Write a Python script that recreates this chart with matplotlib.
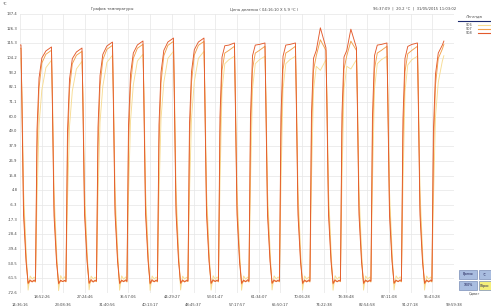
import matplotlib
matplotlib.use("Agg")
import matplotlib.pyplot as plt
from matplotlib.patches import Rectangle
from matplotlib.transforms import blended_transform_factory

# time stamps (hours since start of log) shared by all three sensors
HOURS = [
    14.6,
    14.8, 15.0, 15.3, 15.8, 16.2, 16.6, 17.0, 17.4, 17.65, 17.95, 18.35, 18.9, 19.7,
    20.8, 21.0, 21.3, 21.8, 22.2, 22.6, 23.0, 23.4, 23.65, 23.95, 24.35, 24.9, 25.7,
    26.8, 27.0, 27.3, 27.8, 28.2, 28.6, 29.0, 29.4, 29.65, 29.95, 30.35, 30.9, 31.7,
    32.8, 33.0, 33.3, 33.8, 34.2, 34.6, 35.0, 35.4, 35.65, 35.95, 36.35, 36.9, 37.7,
    38.8, 39.0, 39.3, 39.8, 40.2, 40.6, 41.0, 41.4, 41.65, 41.95, 42.35, 42.9, 43.7,
    44.8, 45.0, 45.3, 45.8, 46.2, 46.6, 47.0, 47.4, 47.65, 47.95, 48.35, 48.9, 49.7,
    50.8, 51.0, 51.3, 51.8, 52.2, 52.6, 53.0, 53.4, 53.65, 53.95, 54.35, 54.9, 55.7,
    56.8, 57.0, 57.3, 57.8, 58.2, 58.6, 59.0, 59.4, 59.65, 59.95, 60.35, 60.9, 61.7,
    62.8, 63.0, 63.3, 63.8, 64.2, 64.6, 65.0, 65.4, 65.65, 65.95, 66.35, 66.9, 67.7,
    68.8, 69.0, 69.3, 69.8, 70.2, 70.6, 71.0, 71.4, 71.65, 71.95, 72.35, 72.9, 73.7,
    74.8, 75.0, 75.3, 75.8, 76.2, 76.6, 77.0, 77.4, 77.65, 77.95, 78.35, 78.9, 79.7,
    80.8, 81.0, 81.3, 81.8, 82.2, 82.6, 83.0, 83.4, 83.65, 83.95, 84.35, 84.9, 85.7,
    86.8, 87.0, 87.3, 87.8, 88.2, 88.6, 89.0, 89.4, 89.65, 89.95, 90.35, 90.9, 91.7,
    92.8, 93.0, 93.3, 93.8, 94.2, 94.6, 95.0, 95.4, 95.65, 95.95, 96.35, 96.9, 97.7,
    98.0,
]

TEMP_S06 = [
    104.0,
    104.0, 76.4, 4.9, -40.2, -70.4, -59.8, -62.1, -60.6, -62.1, -2.6, 53.8, 80.2, 97.0,
    102.6, 75.5, 4.0, -40.8, -70.8, -59.5, -62.3, -60.4, -62.0, -3.5, 53.0, 79.5, 96.0,
    101.8, 76.0, 5.2, -40.0, -70.2, -59.9, -62.0, -60.7, -62.2, -1.0, 56.0, 83.0, 101.0,
    106.3, 77.0, 5.5, -39.8, -70.5, -59.7, -62.2, -60.5, -62.1, 0.0, 57.0, 84.0, 102.0,
    107.1, 77.5, 5.8, -39.5, -70.6, -59.8, -62.1, -60.6, -62.0, 1.0, 58.5, 86.0, 104.0,
    109.3, 78.0, 6.0, -39.9, -70.3, -59.9, -62.0, -60.7, -62.1, 1.5, 59.0, 86.5, 104.0,
    109.3, 77.0, 5.0, -40.1, -70.4, -59.6, -62.2, -60.5, -62.2, 10.0, 80.0, 100.0, 103.0,
    105.6, 76.0, 4.5, -40.3, -70.5, -59.8, -62.1, -60.6, -62.1, 10.0, 81.0, 100.0, 103.0,
    105.6, 76.2, 4.3, -40.0, -70.3, -59.7, -62.0, -60.5, -62.0, 10.0, 80.5, 100.0, 103.0,
    105.6, 76.4, 4.2, -40.2, -70.4, -59.8, -62.1, -60.6, -62.1, 12.0, 80.0, 98.0, 95.0,
    103.0, 76.6, 4.6, -40.0, -70.5, -59.6, -62.2, -60.5, -62.0, 12.0, 81.0, 98.0, 96.0,
    103.0, 76.3, 4.4, -40.2, -70.4, -59.8, -62.1, -60.6, -62.1, 10.0, 81.0, 100.0, 103.0,
    105.6, 76.1, 4.5, -40.1, -70.3, -59.7, -62.0, -60.4, -62.0, 8.0, 79.0, 99.0, 103.0,
    105.6, 76.4, 4.9, -40.2, -70.4, -59.8, -62.1, -60.6, -62.1, -2.6, 60.0, 86.0, 102.0,
    106.0,
]

TEMP_S07 = [
    111.6,
    111.6, 68.9, -6.4, -46.3, -65.8, -63.6, -63.6, -63.6, -64.3, 35.0, 81.7, 100.5, 107.1,
    110.1, 68.0, -7.0, -46.8, -65.9, -63.4, -63.8, -63.5, -64.2, 34.0, 81.0, 100.0, 106.3,
    109.3, 69.0, -6.0, -46.0, -65.7, -63.5, -63.7, -63.6, -64.1, 37.0, 83.0, 103.0, 110.8,
    113.8, 69.5, -5.8, -45.8, -65.8, -63.6, -63.6, -63.4, -64.3, 38.0, 84.0, 104.0, 111.6,
    114.6, 70.0, -5.5, -45.5, -65.9, -63.5, -63.8, -63.5, -64.2, 39.0, 85.5, 106.0, 113.8,
    116.8, 70.5, -5.2, -45.9, -65.7, -63.6, -63.7, -63.6, -64.0, 39.5, 86.0, 106.5, 113.8,
    116.8, 69.5, -6.1, -46.1, -65.8, -63.4, -63.6, -63.5, -64.2, 45.0, 95.0, 108.0, 110.0,
    113.1, 68.0, -6.5, -46.2, -65.9, -63.6, -63.7, -63.4, -64.3, 45.0, 96.0, 108.0, 110.0,
    113.1, 68.3, -6.6, -46.0, -65.7, -63.5, -63.6, -63.6, -64.2, 45.0, 95.5, 108.0, 110.0,
    113.1, 68.5, -6.7, -46.3, -65.8, -63.6, -63.6, -63.6, -64.3, 47.0, 95.0, 106.0, 118.0,
    110.0, 68.7, -6.3, -46.0, -65.9, -63.4, -63.8, -63.5, -64.1, 47.0, 96.0, 106.0, 117.0,
    110.0, 68.4, -6.5, -46.2, -65.8, -63.6, -63.6, -63.6, -64.3, 45.0, 96.0, 108.0, 110.0,
    113.1, 68.2, -6.4, -46.1, -65.7, -63.5, -63.7, -63.4, -64.2, 43.0, 94.0, 107.5, 110.0,
    113.1, 68.9, -6.4, -46.3, -65.8, -63.6, -63.6, -63.6, -64.3, 35.0, 84.0, 104.0, 111.0,
    114.5,
]

TEMP_S08 = [
    114.1,
    114.1, 65.1, -13.9, -49.3, -65.1, -62.8, -64.3, -62.8, -63.6, 50.1, 89.2, 104.3, 109.6,
    112.6, 64.0, -14.5, -49.8, -65.4, -63.0, -64.0, -63.1, -63.8, 49.0, 88.5, 103.8, 108.8,
    111.8, 65.0, -13.5, -49.0, -65.0, -62.5, -64.4, -62.9, -63.5, 52.0, 91.0, 107.0, 113.3,
    116.3, 66.0, -13.0, -48.8, -65.2, -62.9, -64.1, -62.7, -63.7, 53.0, 92.0, 108.0, 114.1,
    117.1, 66.5, -12.8, -48.5, -65.3, -62.6, -64.2, -62.8, -63.6, 54.0, 93.5, 110.0, 116.3,
    119.3, 67.0, -12.5, -48.9, -65.0, -62.8, -64.3, -62.9, -63.4, 54.5, 94.0, 110.5, 116.3,
    119.3, 66.0, -13.2, -49.1, -65.1, -62.7, -64.0, -62.8, -63.5, 60.0, 105.0, 113.5, 114.0,
    115.6, 64.5, -13.6, -49.2, -65.2, -62.9, -64.2, -62.6, -63.6, 60.0, 106.0, 114.0, 114.5,
    115.6, 64.8, -13.8, -49.0, -65.0, -62.8, -64.1, -62.8, -63.5, 60.0, 105.5, 114.0, 114.5,
    115.6, 65.0, -13.9, -49.3, -65.1, -62.8, -64.3, -62.8, -63.6, 62.0, 104.0, 110.0, 127.0,
    112.0, 65.2, -13.5, -49.0, -65.2, -62.7, -64.2, -62.9, -63.5, 62.0, 105.0, 110.0, 126.0,
    112.0, 65.0, -13.8, -49.2, -65.1, -62.8, -64.3, -62.8, -63.6, 60.0, 106.0, 114.0, 114.5,
    115.6, 64.9, -13.7, -49.1, -65.0, -62.9, -64.1, -62.7, -63.5, 58.0, 104.0, 113.0, 114.5,
    115.6, 65.0, -13.9, -49.3, -65.1, -62.8, -64.3, -62.8, -63.6, 50.1, 92.0, 108.0, 114.0,
    117.0,
]

SERIES_NAMES = ["S06", "S07", "S08"]
SERIES_COLORS = ["#f7dc92", "#f2a049", "#e35a2c"]

Y_TICKS = [137.4, 126.3, 115.3, 104.2, 93.2, 82.1, 71.1, 60.0, 49.0, 37.9,
           26.9, 15.8, 4.8, -6.3, -17.3, -28.4, -39.4, -50.5, -61.5, -72.6]

X_TICK_LABELS = ["14:36:16", "18:52:26", "23:08:36", "27:24:46", "31:40:56",
                 "35:57:06", "40:13:17", "44:29:27", "48:45:37", "53:01:47",
                 "57:17:57", "61:34:07", "65:50:17", "70:06:28", "74:22:38",
                 "78:38:48", "82:54:58", "87:11:08", "91:27:18", "95:43:28",
                 "99:59:38"]


def to_hours(stamp):
    h, m, s = (int(p) for p in stamp.split(":"))
    return h + m / 60 + s / 3600


W, H = 491, 308
fig = plt.figure(figsize=(W / 100, H / 100), dpi=100)
fig.patch.set_facecolor("white")


def px(x, y):
    """figure pixel (from top-left) -> figure fraction"""
    return x / W, 1 - y / H


left, right, top, bottom = 20, 454, 14, 293
ax = fig.add_axes([left / W, 1 - bottom / H, (right - left) / W, (bottom - top) / H])

for vals, col in zip([TEMP_S06, TEMP_S07, TEMP_S08], SERIES_COLORS):
    ax.plot(HOURS, vals, color=col, lw=0.65, solid_joinstyle="round")

xt = [to_hours(s) for s in X_TICK_LABELS]
ax.set_xlim(xt[0], xt[-1])
ax.set_ylim(Y_TICKS[-1], Y_TICKS[0])
ax.set_xticks(xt)
ax.set_yticks(Y_TICKS)
ax.set_xticklabels([])
ax.set_yticklabels([])
ax.tick_params(length=0)
ax.grid(True, color="#e6e6e6", lw=0.5)
ax.set_axisbelow(True)
for sp in ax.spines.values():
    sp.set_visible(False)

fs = 2.7
tc = "#444444"
# y labels
for v in Y_TICKS:
    ax.text(-0.006, v, f"{v:.1f}", transform=ax.get_yaxis_transform(),
            ha="right", va="center", fontsize=fs, color=tc)
# x labels, staggered in two rows
xlab_tr = blended_transform_factory(ax.transData, fig.transFigure)
for i, (pos, lab) in enumerate(zip(xt, X_TICK_LABELS)):
    yy = 305 if i % 2 == 0 else 297.5
    ax.text(pos, 1 - yy / H, lab, transform=xlab_tr,
            ha="center", va="center", fontsize=fs, color=tc)

fig.text(*px(3, 4), "°C", fontsize=fs, color=tc, ha="left", va="center")
fig.text(*px(112, 9), "График температуры", fontsize=fs, color=tc, ha="center", va="center")
fig.text(*px(264, 9), "Цена деления ( 04:16:10 X 5.9 °C )", fontsize=fs, color=tc,
         ha="center", va="center")
fig.text(*px(415, 9), "96:37:09  |  20.2 °C  |  31/05/2015 11:03:02", fontsize=fs,
         color=tc, ha="center", va="center")

# legend block
fig.text(*px(473, 16), "Легенда", fontsize=fs, color=tc, ha="center", va="center",
         style="italic")
fig.add_artist(plt.Line2D([458 / W, 491 / W], [1 - 21 / H, 1 - 21 / H],
                          color="#1c2a6e", lw=0.8))
for i, (name, col) in enumerate(zip(SERIES_NAMES, SERIES_COLORS)):
    yy = 24.5 + i * 4.3
    fig.text(*px(466, yy), name, fontsize=fs - 0.2, color=tc, ha="left", va="center")
    fig.add_artist(plt.Line2D([478 / W, 491 / W], [1 - yy / H, 1 - yy / H],
                              color=col, lw=0.8))

# buttons bottom-right
btns = [(459, 270, 18, 9, "#a9bde0", "Время"), (479, 270, 12, 9, "#a9bde0", "°C"),
        (459, 281, 18, 9, "#a9bde0", "100%"), (479, 281, 12, 9, "#f4ef7a", "Сброс")]
for x0, y0, w, h, fc, lab in btns:
    fig.add_artist(Rectangle(px(x0, y0 + h), w / W, h / H, facecolor=fc,
                             edgecolor="#7a8fb8", lw=0.5, transform=fig.transFigure))
    fig.text(*px(x0 + w / 2, y0 + h / 2), lab, fontsize=fs - 0.4, color="#1a1a50",
             ha="center", va="center")
fig.text(*px(474, 294), "Сдвиг", fontsize=fs - 0.2, color=tc, ha="center", va="center")

fig.savefig("out.png", dpi=100)
